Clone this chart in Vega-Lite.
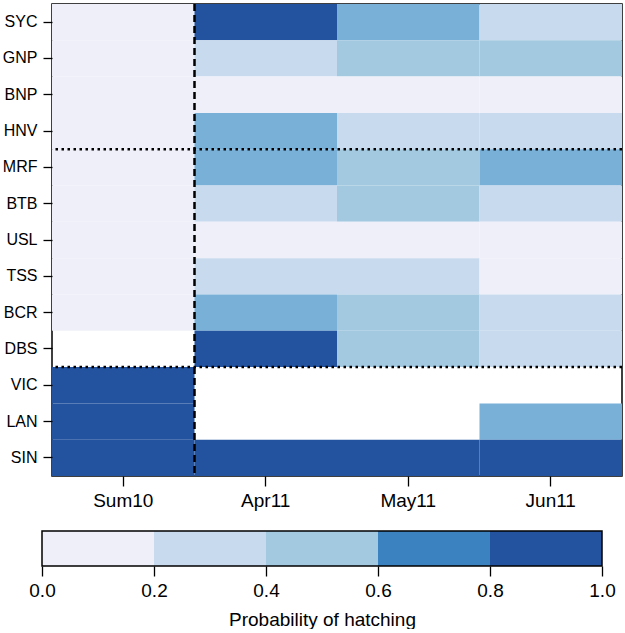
{
  "$schema": "https://vega.github.io/schema/vega-lite/v6.json",
  "background": "white",
  "padding": {"left": 1, "top": 2, "right": 0, "bottom": 0},
  "spacing": 19,
  "config": {
    "font": "Liberation Sans",
    "axis": {"labelColor": "black", "tickColor": "black", "titleColor": "black", "labelFont": "Liberation Sans", "titleFont": "Liberation Sans", "grid": false}
  },
  "resolve": {"scale": {"color": "independent", "x": "independent"}},
  "vconcat": [
    {
      "width": 570,
      "height": 472,
      "view": {"stroke": "black", "strokeWidth": 1.5},
      "layer": [
        {
          "data": {"values": [
            {"row": "SYC", "col": "Sum10", "p": 0.1}, {"row": "SYC", "col": "Apr11", "p": 0.9}, {"row": "SYC", "col": "May11", "p": 0.7}, {"row": "SYC", "col": "Jun11", "p": 0.3},
            {"row": "GNP", "col": "Sum10", "p": 0.1}, {"row": "GNP", "col": "Apr11", "p": 0.3}, {"row": "GNP", "col": "May11", "p": 0.5}, {"row": "GNP", "col": "Jun11", "p": 0.5},
            {"row": "BNP", "col": "Sum10", "p": 0.1}, {"row": "BNP", "col": "Apr11", "p": 0.1}, {"row": "BNP", "col": "May11", "p": 0.1}, {"row": "BNP", "col": "Jun11", "p": 0.1},
            {"row": "HNV", "col": "Sum10", "p": 0.1}, {"row": "HNV", "col": "Apr11", "p": 0.7}, {"row": "HNV", "col": "May11", "p": 0.3}, {"row": "HNV", "col": "Jun11", "p": 0.3},
            {"row": "MRF", "col": "Sum10", "p": 0.1}, {"row": "MRF", "col": "Apr11", "p": 0.7}, {"row": "MRF", "col": "May11", "p": 0.5}, {"row": "MRF", "col": "Jun11", "p": 0.7},
            {"row": "BTB", "col": "Sum10", "p": 0.1}, {"row": "BTB", "col": "Apr11", "p": 0.3}, {"row": "BTB", "col": "May11", "p": 0.5}, {"row": "BTB", "col": "Jun11", "p": 0.3},
            {"row": "USL", "col": "Sum10", "p": 0.1}, {"row": "USL", "col": "Apr11", "p": 0.1}, {"row": "USL", "col": "May11", "p": 0.1}, {"row": "USL", "col": "Jun11", "p": 0.1},
            {"row": "TSS", "col": "Sum10", "p": 0.1}, {"row": "TSS", "col": "Apr11", "p": 0.3}, {"row": "TSS", "col": "May11", "p": 0.3}, {"row": "TSS", "col": "Jun11", "p": 0.1},
            {"row": "BCR", "col": "Sum10", "p": 0.1}, {"row": "BCR", "col": "Apr11", "p": 0.7}, {"row": "BCR", "col": "May11", "p": 0.5}, {"row": "BCR", "col": "Jun11", "p": 0.3},
            {"row": "DBS", "col": "Apr11", "p": 0.9}, {"row": "DBS", "col": "May11", "p": 0.5}, {"row": "DBS", "col": "Jun11", "p": 0.3},
            {"row": "VIC", "col": "Sum10", "p": 0.9},
            {"row": "LAN", "col": "Sum10", "p": 0.9}, {"row": "LAN", "col": "Jun11", "p": 0.7},
            {"row": "SIN", "col": "Sum10", "p": 0.9}, {"row": "SIN", "col": "Apr11", "p": 0.9}, {"row": "SIN", "col": "May11", "p": 0.9}, {"row": "SIN", "col": "Jun11", "p": 0.9}
          ]},
          "mark": {"type": "rect"},
          "encoding": {
            "x": {"field": "col", "type": "nominal", "scale": {"domain": ["Sum10", "Apr11", "May11", "Jun11"]},
                  "axis": {"title": null, "labelAngle": 0, "domain": false, "tickSize": 10, "tickWidth": 1.3, "labelFontSize": 19, "labelPadding": 5}},
            "y": {"field": "row", "type": "nominal", "scale": {"domain": ["SYC", "GNP", "BNP", "HNV", "MRF", "BTB", "USL", "TSS", "BCR", "DBS", "VIC", "LAN", "SIN"]},
                  "axis": {"title": null, "domain": false, "tickSize": 9, "tickWidth": 1.3, "labelFontSize": 16, "labelPadding": 6}},
            "color": {"field": "p", "type": "quantitative",
                      "scale": {"type": "threshold", "domain": [0.2, 0.4, 0.6, 0.8], "range": ["#efeff9", "#c8daee", "#a3c9e0", "#78b0d8", "#23529e"]},
                      "legend": null}
          }
        },
        {
          "data": {"values": [{"col": "Apr11"}]},
          "mark": {"type": "rule", "strokeDash": [7, 4], "strokeWidth": 2.5, "color": "black"},
          "encoding": {"x": {"field": "col", "type": "nominal", "bandPosition": 0, "scale": {"domain": ["Sum10", "Apr11", "May11", "Jun11"]}}}
        },
        {
          "data": {"values": [{"row": "MRF"}, {"row": "VIC"}]},
          "mark": {"type": "rule", "strokeDash": [2.5, 3.5], "strokeWidth": 2.5, "color": "black"},
          "encoding": {"y": {"field": "row", "type": "nominal", "bandPosition": 0, "scale": {"domain": ["SYC", "GNP", "BNP", "HNV", "MRF", "BTB", "USL", "TSS", "BCR", "DBS", "VIC", "LAN", "SIN"]}}}
        }
      ]
    },
    {
      "width": 550,
      "height": 35,
      "view": {"stroke": null},
      "layer": [
        {
          "data": {"values": [{"lo": 0, "hi": 0.2}, {"lo": 0.2, "hi": 0.4}, {"lo": 0.4, "hi": 0.6}, {"lo": 0.6, "hi": 0.8}, {"lo": 0.8, "hi": 1.0}]},
          "mark": {"type": "rect"},
          "encoding": {
            "x": {"field": "lo", "type": "quantitative", "scale": {"domain": [0, 1], "range": [-10, 550]},
                  "axis": {"values": [0, 0.2, 0.4, 0.6, 0.8, 1.0], "format": ".1f", "domain": false, "tickSize": 10, "tickWidth": 1.3, "labelFontSize": 19, "labelPadding": 5, "labelFlush": false,
                           "title": "Probability of hatching", "titleFontSize": 19, "titleFontWeight": "normal", "titlePadding": 10}},
            "x2": {"field": "hi"},
            "color": {"field": "lo", "type": "ordinal", "scale": {"domain": [0, 0.2, 0.4, 0.6, 0.8], "range": ["#efeff9", "#c8daee", "#a3c9e0", "#3a83c0", "#23529e"]}, "legend": null}
          }
        },
        {
          "data": {"values": [{"lo": 0, "hi": 1.0}]},
          "mark": {"type": "rect", "fillOpacity": 0, "stroke": "black", "strokeWidth": 1.5},
          "encoding": {
            "x": {"field": "lo", "type": "quantitative"},
            "x2": {"field": "hi"}
          }
        }
      ]
    }
  ]
}
